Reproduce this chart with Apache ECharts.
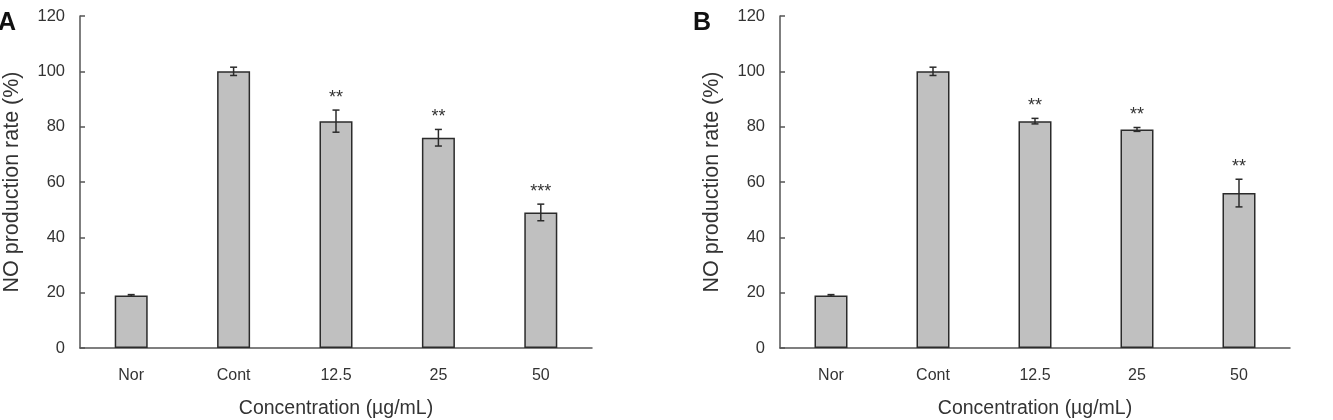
<!DOCTYPE html>
<html>
<head>
<meta charset="utf-8">
<script src="https://cdn.jsdelivr.net/npm/echarts@6/dist/echarts.min.js"></script>
<style>
  html, body { margin: 0; padding: 0; background: #fff; }
  #chart { width: 1333px; height: 420px; }
</style>
</head>
<body>
<div id="chart"></div>
<script>
const categories = ['Nor', 'Cont', '12.5', '25', '50'];
// panel A
const valuesA = [19, 100, 82, 76, 49];
const errorsA = [0.3, 1.5, 4, 3, 3];
const starsA = ['', '', '**', '**', '***'];
// panel B
const valuesB = [19, 100, 82, 79, 56];
const errorsB = [0.3, 1.5, 1, 0.7, 5];
const starsB = ['', '', '**', '**', '**'];

const yMin = 0, yMax = 120, yStep = 20;
const font = "'Liberation Sans', Arial, sans-serif";
const axisColor = '#555';
const textColor = '#333';

const chart = echarts.init(document.getElementById('chart'));

function xAxisOf(gridIndex) {
  return {
    type: 'category',
    gridIndex: gridIndex,
    data: categories,
    name: 'Concentration (µg/mL)',
    nameLocation: 'middle',
    nameGap: 51,
    nameTextStyle: { fontSize: 19.5, color: textColor, fontFamily: font },
    axisLine: { lineStyle: { color: axisColor, width: 1.5 } },
    axisTick: { inside: true, length: 5, lineStyle: { color: axisColor, width: 1.5 } },
    axisLabel: { margin: 20, fontSize: 16, color: textColor, fontFamily: font }
  };
}

function yAxisOf(gridIndex) {
  return {
    type: 'value',
    gridIndex: gridIndex,
    min: yMin,
    max: yMax,
    interval: yStep,
    name: 'NO production rate (%)',
    nameLocation: 'middle',
    nameGap: 57,
    nameTextStyle: { fontSize: 21.5, color: textColor, fontFamily: font },
    axisLine: { show: true, lineStyle: { color: axisColor, width: 1.5 } },
    axisTick: { show: true, inside: true, length: 5, lineStyle: { color: axisColor, width: 1.5 } },
    axisLabel: { margin: 15, fontSize: 16.5, color: textColor, fontFamily: font },
    splitLine: { show: false }
  };
}

function barSeries(idx, values) {
  return {
    type: 'bar',
    xAxisIndex: idx,
    yAxisIndex: idx,
    data: values,
    barWidth: 33,
    itemStyle: { color: '#c0c0c0', borderColor: '#2b2b2b', borderWidth: 1.5 },
    z: 2
  };
}

function errorSeries(idx, values, errors, stars) {
  return {
    type: 'custom',
    xAxisIndex: idx,
    yAxisIndex: idx,
    z: 5,
    data: values.map((v, i) => [i, v - errors[i], v + errors[i]]),
    renderItem: function (params, api) {
      const i = api.value(0);
      const lo = api.coord([i, api.value(1)]);
      const hi = api.coord([i, api.value(2)]);
      const cap = 3.5;
      const style = { stroke: '#2b2b2b', lineWidth: 1.5 };
      const children = [
        { type: 'line', shape: { x1: hi[0], y1: hi[1], x2: lo[0], y2: lo[1] }, style: style },
        { type: 'line', shape: { x1: hi[0] - cap, y1: hi[1], x2: hi[0] + cap, y2: hi[1] }, style: style },
        { type: 'line', shape: { x1: lo[0] - cap, y1: lo[1], x2: lo[0] + cap, y2: lo[1] }, style: style }
      ];
      if (stars[i]) {
        children.push({
          type: 'text',
          style: {
            x: hi[0], y: hi[1] - 12,
            text: stars[i],
            fontSize: 18,
            fontFamily: font,
            fill: '#333',
            align: 'center',
            verticalAlign: 'middle'
          }
        });
      }
      return { type: 'group', children: children };
    }
  };
}

chart.setOption({
  animation: false,
  textStyle: { fontFamily: font },
  grid: [
    { left: 80, right: 741, top: 16, bottom: 72, outerBoundsMode: 'none' },
    { left: 780, right: 43, top: 16, bottom: 72, outerBoundsMode: 'none' }
  ],
  xAxis: [xAxisOf(0), xAxisOf(1)],
  yAxis: [yAxisOf(0), yAxisOf(1)],
  graphic: [
    { type: 'text', left: -2, top: 11, style: { text: 'A', fontSize: 25, fontWeight: 'bold', fill: '#111', fontFamily: font } },
    { type: 'text', left: 693, top: 11, style: { text: 'B', fontSize: 25, fontWeight: 'bold', fill: '#111', fontFamily: font } }
  ],
  series: [
    barSeries(0, valuesA),
    errorSeries(0, valuesA, errorsA, starsA),
    barSeries(1, valuesB),
    errorSeries(1, valuesB, errorsB, starsB)
  ]
});
</script>
</body>
</html>
